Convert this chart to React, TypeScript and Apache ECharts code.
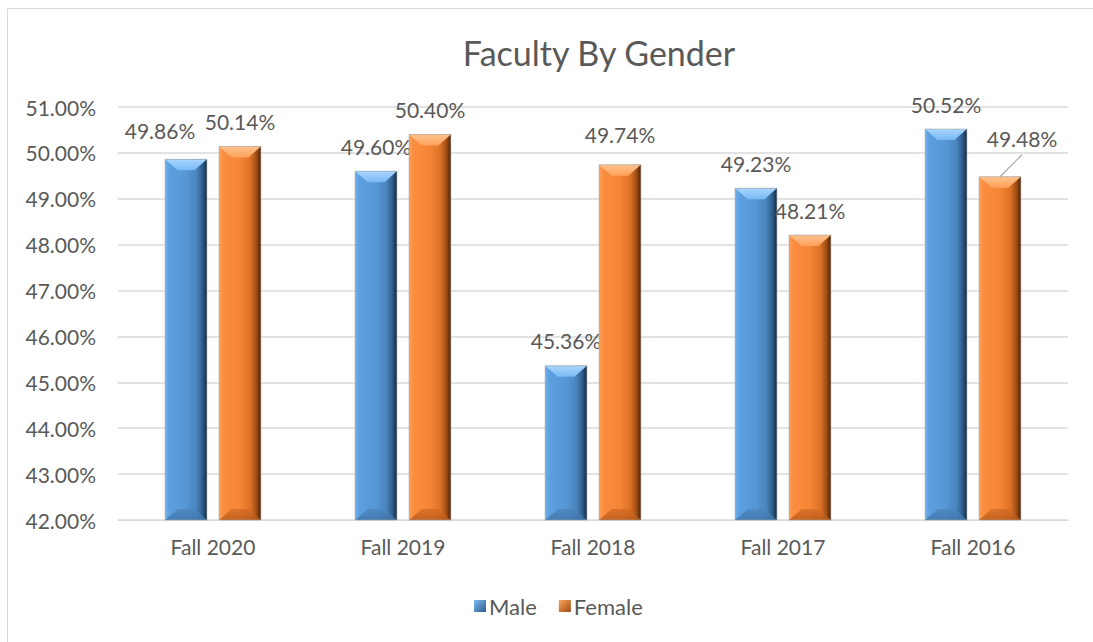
import React, { useEffect, useRef } from "react";
import * as echarts from "echarts";

const categories = ["Fall 2020", "Fall 2019", "Fall 2018", "Fall 2017", "Fall 2016"];
const maleValues = [49.86, 49.6, 45.36, 49.23, 50.52];
const femaleValues = [50.14, 50.4, 49.74, 48.21, 49.48];
const yTicks = { min: 42, max: 51, interval: 1 };

// label nudges (px), mimicking the reference's manual label placement
const maleLabelShift = [[-26, -4], [0, 0], [0, 0], [0, 0], [0, 0]];
const femaleLabelShift = [[0, 0], [0, 0], [0, -5], [0, 0], [22, -13]];
const femaleLeader = [false, false, false, false, true];

const FONT = "Lato";
const TEXT = "#595959";

const palettes = {
  male: {
    body: ["#6fb0ec", "#5ca0e0", "#5697d5", "#4a84bd", "#2c5a86", "#14293d"],
    top: ["#a9d6ff", "#78b9f2"],
    bottom: ["#4d87c0", "#3f74a8"],
  },
  female: {
    body: ["#ffa15a", "#fb8d3e", "#f58636", "#dc7127", "#9c4c14", "#4a2205"],
    top: ["#ffc48e", "#ffa05a"],
    bottom: ["#d66c23", "#b85a1b"],
  },
};

function makeRender(side: number, pal: any, shift: number[][], leader: boolean[]) {
  return (params: any, api: any) => {
    const idx = api.value(0);
    const val = api.value(1);
    const top = api.coord([idx, val]);
    const base = api.coord([idx, yTicks.min]);
    const band = api.size([1, 0])[0];
    const w = band * 0.22;
    const cx = top[0] + band * 0.142 * side;
    const x0 = cx - w / 2;
    const x1 = cx + w / 2;
    const yT = top[1];
    const yB = base[1];
    const b = Math.min(13, w * 0.3);
    const bh = Math.min(11, (yB - yT) / 2);
    const lg = (stops: string[], pos: number[]) =>
      new echarts.graphic.LinearGradient(0, 0, 1, 0, stops.map((c, i) => ({ offset: pos[i], color: c })));
    const vg = (a: string, c: string) =>
      new echarts.graphic.LinearGradient(0, 0, 0, 1, [
        { offset: 0, color: a },
        { offset: 1, color: c },
      ]);
    const [dx, dy] = shift[idx] || [0, 0];
    const lx = cx + dx;
    const ly = yT - 25 + dy;
    const children: any[] = [
      {
        type: "rect",
        shape: { x: x0, y: yT, width: w, height: yB - yT },
        style: { fill: lg(pal.body, [0, 0.1, 0.5, 0.75, 0.9, 1]) },
      },
      {
        type: "polygon",
        shape: { points: [[x0, yT], [x1, yT], [x1 - b, yT + bh], [x0 + b, yT + bh]] },
        style: { fill: vg(pal.top[0], pal.top[1]) },
      },
      {
        type: "polygon",
        shape: { points: [[x0 + b, yB - bh], [x1 - b, yB - bh], [x1, yB], [x0, yB]] },
        style: { fill: vg(pal.bottom[0], pal.bottom[1]), opacity: 0.8 },
      },
      {
        type: "rect",
        shape: { x: x0, y: yT, width: w, height: yB - yT },
        style: { fill: "none", stroke: "rgba(160,160,160,0.55)", lineWidth: 1 },
      },
      {
        type: "text",
        style: {
          text: val.toFixed(2) + "%",
          x: lx,
          y: ly,
          fill: TEXT,
          fontFamily: FONT,
          fontSize: 21,
          align: "center",
          verticalAlign: "middle",
        },
      },
    ];
    if (leader[idx]) {
      children.push({
        type: "line",
        shape: { x1: lx, y1: ly + 16, x2: cx, y2: yT },
        style: { stroke: "#a6a6a6", lineWidth: 1.2 },
      });
    }
    return { type: "group", children };
  };
}

export default function App() {
  const ref = useRef<HTMLDivElement>(null);
  useEffect(() => {
    document.body.style.margin = "0";
    const chart = echarts.init(ref.current!, null, { renderer: "svg" });
    chart.setOption({
      animation: false,
      backgroundColor: "#ffffff",
      textStyle: { fontFamily: FONT, color: TEXT },
      grid: { left: 118, right: 25, top: 107, bottom: 122 },
      graphic: [
        {
          type: "rect",
          shape: { x: 7.5, y: 8.5, width: 1200, height: 700 },
          style: { fill: "none", stroke: "#d9d9d9", lineWidth: 1 },
          silent: true,
        },
        {
          type: "text",
          x: 599,
          y: 52,
          style: {
            text: "Faculty By Gender",
            fill: TEXT,
            fontFamily: FONT,
            fontSize: 34,
            align: "center",
            verticalAlign: "middle",
          },
        },
      ],
      legend: {
        left: 469,
        top: 590,
        itemWidth: 12,
        itemHeight: 12,
        itemGap: 22,
        icon: "rect",
        textStyle: { fontFamily: FONT, fontSize: 22, color: TEXT, padding: [0, 0, 0, -2] },
        data: ["Male", "Female"],
      },
      xAxis: {
        type: "category",
        data: categories,
        axisLine: { lineStyle: { color: "#d9d9d9", width: 1 } },
        axisTick: { show: false },
        axisLabel: { fontFamily: FONT, fontSize: 21, color: TEXT, margin: 16 },
      },
      yAxis: {
        type: "value",
        min: yTicks.min,
        max: yTicks.max,
        interval: yTicks.interval,
        axisLine: { show: false },
        axisTick: { show: false },
        splitLine: { lineStyle: { color: "#d9d9d9", width: 1.5 } },
        axisLabel: {
          fontFamily: FONT,
          fontSize: 21,
          color: TEXT,
          margin: 22,
          formatter: (v: number) => v.toFixed(2) + "%",
        },
      },
      series: [
        {
          name: "Male",
          type: "custom",
          itemStyle: {
            color: new echarts.graphic.LinearGradient(0, 0, 1, 1, [
              { offset: 0, color: "#7dbdf4" },
              { offset: 1, color: "#2c5a86" },
            ]),
          },
          encode: { x: 0, y: 1 },
          data: maleValues.map((v, i) => [i, v]),
          renderItem: makeRender(-1, palettes.male, maleLabelShift, [false, false, false, false, false]),
        },
        {
          name: "Female",
          type: "custom",
          itemStyle: {
            color: new echarts.graphic.LinearGradient(0, 0, 1, 1, [
              { offset: 0, color: "#ffa35e" },
              { offset: 1, color: "#9c4c14" },
            ]),
          },
          encode: { x: 0, y: 1 },
          data: femaleValues.map((v, i) => [i, v]),
          renderItem: makeRender(1, palettes.female, femaleLabelShift, femaleLeader),
        },
      ],
    });
    return () => chart.dispose();
  }, []);
  return <div ref={ref} style={{ width: 1093, height: 642 }} />;
}
